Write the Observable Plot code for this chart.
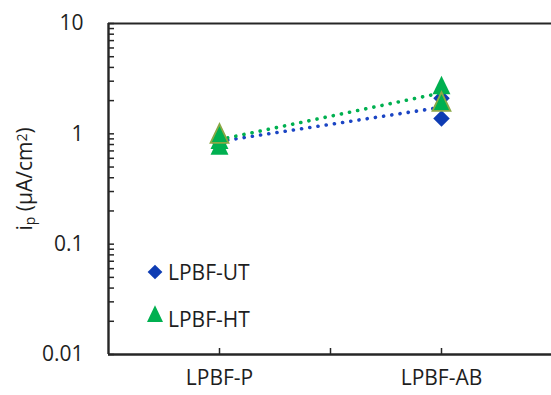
<!DOCTYPE html>
<html>
<head>
<meta charset="utf-8">
<script src="https://cdn.jsdelivr.net/npm/d3@7"></script>
<script src="https://cdn.jsdelivr.net/npm/@observablehq/plot@0.6"></script>
<style>
  html, body { margin: 0; padding: 0; background: white; }
  #chart { position: relative; width: 551px; height: 395px; }
</style>
</head>
<body>
<div id="chart"></div>
<script>
// ---- data ----
const categories = ["LPBF-P", "LPBF-AB"];
const seriesNames = ["LPBF-UT", "LPBF-HT"];
const utValues = [[0.87, 0.84], [2.1, 1.38]];          // per category
const htValues = [[0.88, 0.78, 1.0], [2.75, 1.95]];    // per category (last sample outlined)
const yTickLabels = [0.01, 0.1, 1, 10];
const xDomain = [-0.5, categories.length - 0.5];

// ---- derived tables ----
const toPoints = (vals) => categories.flatMap((c, i) =>
  vals[i].map((v, j) => ({ x: i, cat: c, v, last: j === vals[i].length - 1 })));
const ut = toPoints(utValues);
const ht = toPoints(htValues);
const utLine = categories.map((c, i) => ({ x: i, v: d3.mean(utValues[i]) }));
const htLine = categories.map((c, i) => ({ x: i, v: d3.mean(htValues[i]) }));
const minorTicks = d3.scaleLog().domain(d3.extent(yTickLabels)).ticks();

// ---- symbols ----
const diamondSym = { draw(ctx, size) { const s = Math.sqrt(size);
  ctx.moveTo(0, -0.46 * s); ctx.lineTo(0.46 * s, 0); ctx.lineTo(0, 0.46 * s); ctx.lineTo(-0.46 * s, 0); ctx.closePath(); } };
const triangleSym = { draw(ctx, size) { const s = Math.sqrt(size);
  ctx.moveTo(0, -0.54 * s); ctx.lineTo(0.5 * s, 0.5 * s); ctx.lineTo(-0.5 * s, 0.5 * s); ctx.closePath(); } };

const blue = "#0e3cb3", blueLine = "#1b45c4", green = "#00b050", olive = "#8aa845", axisCol = "#262626", textCol = "#1e1e1e";
const R = 10.1;

const plot = Plot.plot({
  width: 551, height: 395,
  marginLeft: 108, marginRight: 0, marginTop: 23, marginBottom: 41,
  x: { type: "linear", domain: xDomain, range: [108, 552] },
  y: { type: "log", domain: d3.extent(yTickLabels) },
  style: { fontFamily: "Open Sans", fontSize: "21px", color: textCol, background: "white" },
  marks: [
    // frame-ish lines
    Plot.ruleY([d3.max(yTickLabels)], { stroke: axisCol, strokeWidth: 2.2 }),
    Plot.ruleY([d3.min(yTickLabels)], { stroke: axisCol, strokeWidth: 2.4 }),
    Plot.ruleX([xDomain[0]], { stroke: axisCol, strokeWidth: 2.4 }),
    // y ticks (inside)
    Plot.axisY(minorTicks, { anchor: "left", tickSize: 6, dx: 6, tickFormat: () => "", label: null, stroke: axisCol, strokeWidth: 1.5 }),
    Plot.axisY(yTickLabels, { anchor: "left", tickSize: 0, tickPadding: 25, tickFormat: d => String(d), label: null, fill: textCol }),
    // x ticks (inside)
    Plot.axisX([0, 0.5, 1], { anchor: "bottom", tickSize: 6, dy: -6, tickFormat: () => "", label: null, stroke: axisCol, strokeWidth: 1.5 }),
    Plot.axisX([0, 1], { anchor: "bottom", tickSize: 0, tickPadding: 16, tickFormat: i => categories[i], label: null, fill: textCol }),
    // UT series
    Plot.line(utLine, { x: "x", y: "v", stroke: blueLine, strokeWidth: 3.6, strokeDasharray: "0.1 8.2", strokeLinecap: "round" }),
    Plot.dot(ut, { x: "x", y: "v", symbol: diamondSym, r: R, fill: blue, stroke: "none" }),
    // HT series
    Plot.line(htLine, { x: "x", y: "v", stroke: green, strokeWidth: 3.6, strokeDasharray: "0.1 8.2", strokeLinecap: "round" }),
    Plot.dot(ht.filter(d => !d.last), { x: "x", y: "v", symbol: triangleSym, r: R, fill: green, stroke: "none" }),
    Plot.dot(ht.filter(d => d.last), { x: "x", y: "v", symbol: triangleSym, r: R, fill: green, stroke: olive, strokeWidth: 1.8 })
  ]
});
document.getElementById("chart").appendChild(plot);

// ---- y-axis title with sub/superscript ----
const svg = d3.select(plot);
const t = svg.append("text")
  .attr("transform", "translate(32,179) rotate(-90)")
  .attr("text-anchor", "middle")
  .attr("fill", textCol)
  .style("font-family", "Open Sans").style("font-size", "21px");
t.append("tspan").text("i");
t.append("tspan").attr("baseline-shift", "-22%").style("font-size", "14px").text("p");
t.append("tspan").text(" (μA/cm");
t.append("tspan").attr("baseline-shift", "38%").style("font-size", "14px").text("2");
t.append("tspan").text(")");

// ---- legend ----
const leg = svg.append("g").style("font-family", "Open Sans").style("font-size", "21px");
const legendItems = [
  { name: seriesNames[0], sym: diamondSym, fill: blue, cy: 272, base: 280 },
  { name: seriesNames[1], sym: triangleSym, fill: green, cy: 314, base: 327 }
];
legendItems.forEach(it => {
  leg.append("path").attr("transform", `translate(155,${it.cy})`)
    .attr("d", d3.symbol(it.sym, 16 * 16)()).attr("fill", it.fill);
  leg.append("text").attr("x", 168).attr("y", it.base).attr("text-anchor", "start")
    .attr("fill", textCol).text(it.name);
});
</script>
</body>
</html>
